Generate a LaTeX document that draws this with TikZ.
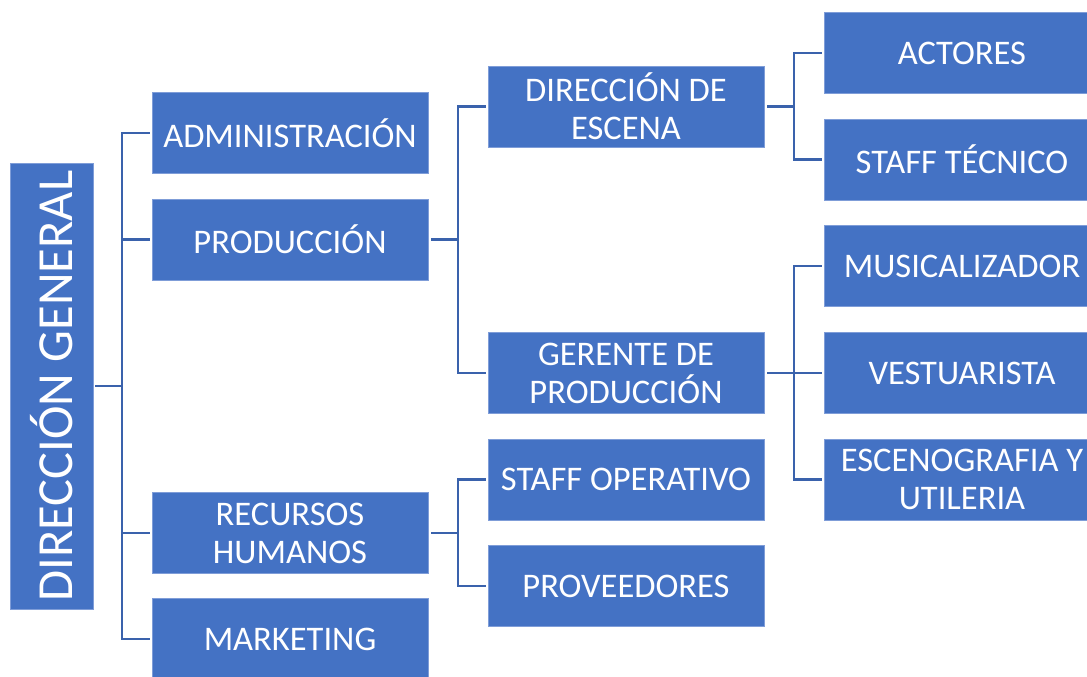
\documentclass[tikz,border=0pt]{standalone}
\usepackage{fontspec}
\setmainfont{Carlito}
\definecolor{boxfill}{HTML}{4472C4}
\definecolor{boxedge}{HTML}{7F9DD8}
\definecolor{connc}{HTML}{3A62AC}
\tikzset{
  orgbox/.style={rectangle, fill=boxfill, draw=boxedge, line width=0.8pt,
    minimum width=276pt, minimum height=81pt, inner sep=0pt, align=center,
    text=white, font=\fontsize{34.5}{38}\selectfont},
  conn/.style={draw=connc, line width=2.8pt},
}
\begin{document}
\begin{tikzpicture}[x=1pt,y=-1pt]
\useasboundingbox (0,0) rectangle (1087,677);
\clip (0,0) rectangle (1087,677);
\fill[white] (0,0) rectangle (1087,677);
% root
\node[orgbox, minimum width=83pt, minimum height=446pt] (dg) at (51.5,386) {};
\node[rotate=90, text=white, font=\fontsize{50.5}{60}\selectfont, inner sep=0pt] (dgt) at (dg.center) {DIRECCIÓN GENERAL};
% column 1
\node[orgbox] (admin) at (290,133) {ADMINISTRACIÓN};
\node[orgbox] (prod) at (290,239.5) {PRODUCCIÓN};
\node[orgbox] (rrhh) at (290,533) {RECURSOS\\HUMANOS};
\node[orgbox] (mkt) at (290,639) {MARKETING};
% column 2
\node[orgbox] (escena) at (626,106.5) {DIRECCIÓN DE\\ESCENA};
\node[orgbox] (gerente) at (626,373) {GERENTE DE\\PRODUCCIÓN};
\node[orgbox] (staffop) at (626,479.5) {STAFF OPERATIVO};
\node[orgbox] (prov) at (626,586) {PROVEEDORES};
% column 3
\node[orgbox] (actores) at (962,53) {ACTORES};
\node[orgbox] (stafftec) at (962,159.5) {STAFF TÉCNICO};
\node[orgbox] (musical) at (962,266) {MUSICALIZADOR};
\node[orgbox] (vest) at (962,373) {VESTUARISTA};
\node[orgbox] (esceno) at (962,479.5) {ESCENOGRAFIA Y\\UTILERIA};
% buses
\coordinate (b1) at (122,386);
\coordinate (b2) at (458,239.5);
\coordinate (b3) at (458,533);
\coordinate (b4) at (794,106.5);
\coordinate (b5) at (794,373);
\draw[conn] ([xshift=2pt]dg.east) -- (b1);
\foreach \n in {admin,prod,rrhh,mkt} \draw[conn] (b1) |- ([xshift=-2pt]\n.west);
\draw[conn] ([xshift=3pt]prod.east) -- (b2);
\foreach \n in {escena,gerente} \draw[conn] (b2) |- ([xshift=-2pt]\n.west);
\draw[conn] ([xshift=3pt]rrhh.east) -- (b3);
\foreach \n in {staffop,prov} \draw[conn] (b3) |- ([xshift=-2pt]\n.west);
\draw[conn] ([xshift=3pt]escena.east) -- (b4);
\foreach \n in {actores,stafftec} \draw[conn] (b4) |- ([xshift=-2pt]\n.west);
\draw[conn] ([xshift=3pt]gerente.east) -- (b5);
\foreach \n in {musical,vest,esceno} \draw[conn] (b5) |- ([xshift=-2pt]\n.west);
\end{tikzpicture}
\end{document}
